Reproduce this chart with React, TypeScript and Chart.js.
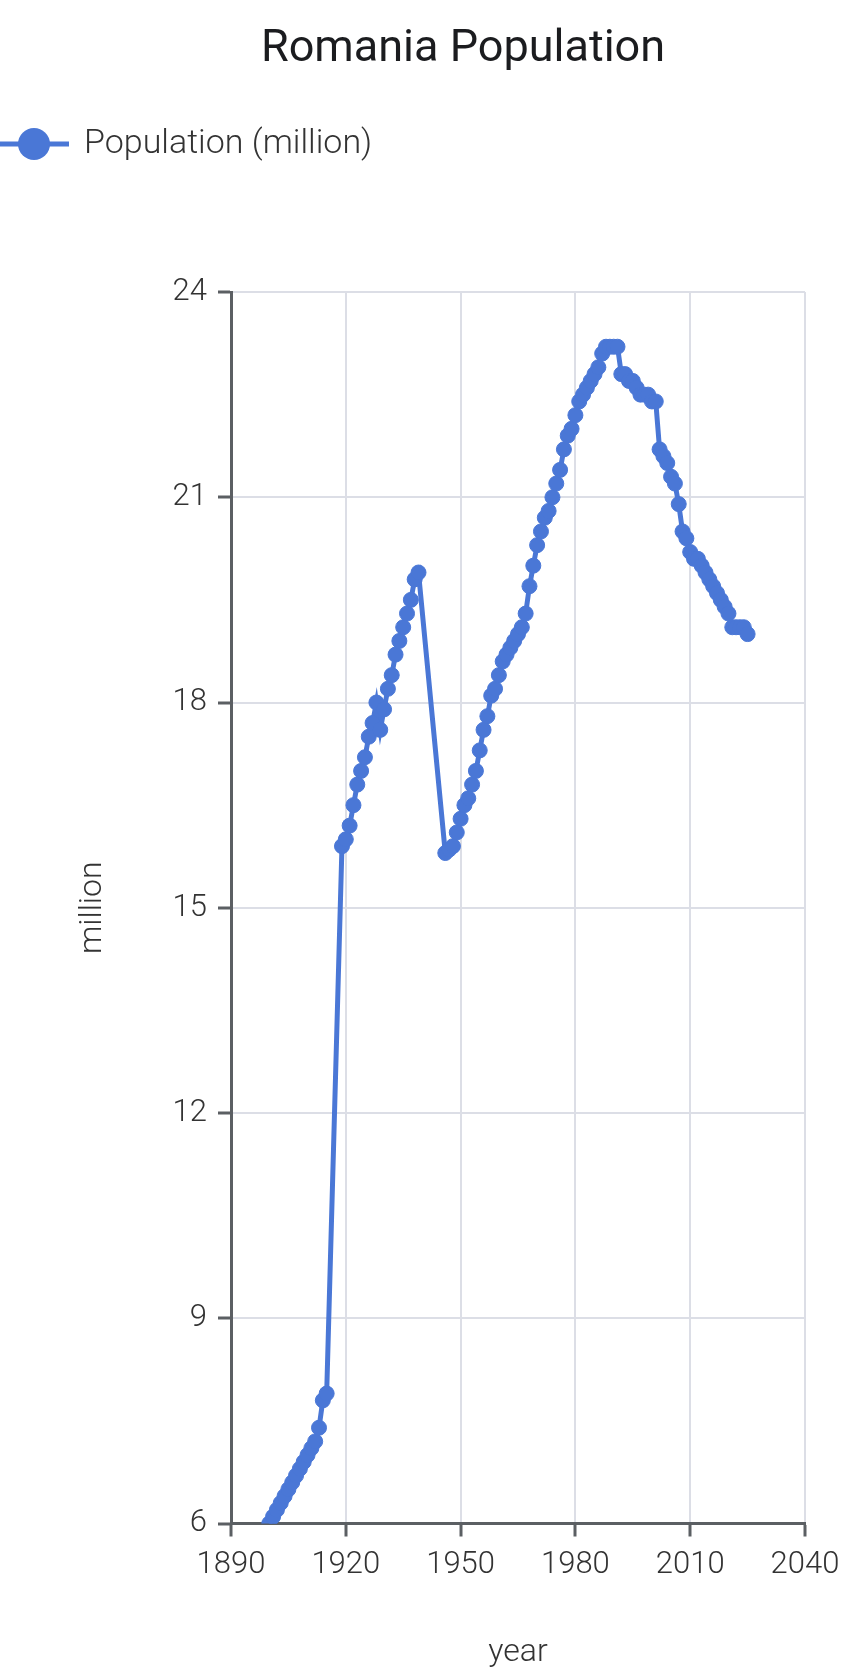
import React, { useEffect, useRef } from "react";
import { Chart, registerables } from "chart.js";

Chart.register(...registerables);

const TITLE = "Romania Population";
const SERIES_NAME = "Population (million)";
const X_TITLE = "year";
const Y_TITLE = "million";

const YEARS = [
  1900, 1901, 1902, 1903, 1904, 1905, 1906, 1907, 1908, 1909, 1910, 1911, 1912, 1913, 1914, 1915,
  1919, 1920, 1921, 1922, 1923, 1924, 1925, 1926, 1927, 1928, 1929, 1930, 1931, 1932, 1933, 1934,
  1935, 1936, 1937, 1938, 1939,
  1946, 1947, 1948, 1949, 1950, 1951, 1952, 1953, 1954, 1955, 1956, 1957, 1958, 1959, 1960, 1961,
  1962, 1963, 1964, 1965, 1966, 1967, 1968, 1969, 1970, 1971, 1972, 1973, 1974, 1975, 1976, 1977,
  1978, 1979, 1980, 1981, 1982, 1983, 1984, 1985, 1986, 1987, 1988, 1989, 1990, 1991, 1992, 1993,
  1994, 1995, 1996, 1997, 1998, 1999, 2000, 2001, 2002, 2003, 2004, 2005, 2006, 2007, 2008, 2009,
  2010, 2011, 2012, 2013, 2014, 2015, 2016, 2017, 2018, 2019, 2020, 2021, 2022, 2023, 2024, 2025,
];

const POPULATION = [
  6.0, 6.1, 6.2, 6.3, 6.4, 6.5, 6.6, 6.7, 6.8, 6.9, 7.0, 7.1, 7.2, 7.4, 7.8, 7.9,
  15.9, 16.0, 16.2, 16.5, 16.8, 17.0, 17.2, 17.5, 17.7, 18.0, 17.6, 17.9, 18.2, 18.4, 18.7, 18.9,
  19.1, 19.3, 19.5, 19.8, 19.9,
  15.8, 15.85, 15.9, 16.1, 16.3, 16.5, 16.6, 16.8, 17.0, 17.3, 17.6, 17.8, 18.1, 18.2, 18.4, 18.6,
  18.7, 18.8, 18.9, 19.0, 19.1, 19.3, 19.7, 20.0, 20.3, 20.5, 20.7, 20.8, 21.0, 21.2, 21.4, 21.7,
  21.9, 22.0, 22.2, 22.4, 22.5, 22.6, 22.7, 22.8, 22.9, 23.1, 23.2, 23.2, 23.2, 23.2, 22.8, 22.8,
  22.7, 22.7, 22.6, 22.5, 22.5, 22.5, 22.4, 22.4, 21.7, 21.6, 21.5, 21.3, 21.2, 20.9, 20.5, 20.4,
  20.2, 20.1, 20.1, 20.0, 19.9, 19.8, 19.7, 19.6, 19.5, 19.4, 19.3, 19.1, 19.1, 19.1, 19.1, 19.0,
];

const X_TICKS = [1890, 1920, 1950, 1980, 2010, 2040];
const Y_TICKS = [6, 9, 12, 15, 18, 21, 24];

const LINE_COLOR = "#4a77d6";
const GRID_COLOR = "#dcdee6";
const AXIS_COLOR = "#5b5f63";
const TEXT_COLOR = "#333333";
const FONT = "Roboto";

const headerPlugin = {
  id: "header",
  afterDraw(chart: any) {
    const ctx = chart.ctx;
    ctx.save();
    ctx.fillStyle = "#1b1c1f";
    ctx.font = `400 45px ${FONT}`;
    ctx.textAlign = "center";
    ctx.textBaseline = "middle";
    ctx.fillText(TITLE, 463, 50);

    const ly = 144;
    ctx.strokeStyle = LINE_COLOR;
    ctx.lineWidth = 5;
    ctx.beginPath();
    ctx.moveTo(0, ly);
    ctx.lineTo(69, ly);
    ctx.stroke();
    ctx.fillStyle = LINE_COLOR;
    ctx.beginPath();
    ctx.arc(34, ly, 16, 0, Math.PI * 2);
    ctx.fill();
    ctx.fillStyle = TEXT_COLOR;
    ctx.font = `300 34px ${FONT}`;
    ctx.textAlign = "left";
    ctx.fillText(SERIES_NAME, 84, ly);
    ctx.restore();
  },
};

export default function App() {
  const ref = useRef<HTMLCanvasElement | null>(null);

  useEffect(() => {
    document.body.style.margin = "0";
    const canvas = ref.current;
    if (!canvas) return;
    const data = YEARS.map((y, i) => ({ x: y, y: POPULATION[i] }));
    const chart = new Chart(canvas, {
      type: "line",
      data: {
        datasets: [
          {
            label: SERIES_NAME,
            data,
            borderColor: LINE_COLOR,
            backgroundColor: LINE_COLOR,
            borderWidth: 5,
            pointRadius: 7.5,
            pointBorderWidth: 1,
            pointBorderColor: LINE_COLOR,
            pointBackgroundColor: LINE_COLOR,
            tension: 0,
            fill: false,
          },
        ],
      },
      options: {
        responsive: false,
        animation: false,
        devicePixelRatio: 1,
        layout: { padding: { top: 292, right: 53, bottom: 0, left: 0 } },
        plugins: {
          legend: { display: false },
          title: { display: false },
          tooltip: { enabled: false },
        },
        scales: {
          x: {
            type: "linear",
            min: X_TICKS[0],
            max: X_TICKS[X_TICKS.length - 1],
            afterBuildTicks: (s: any) => {
              s.ticks = X_TICKS.map((v) => ({ value: v }));
            },
            afterFit: (s: any) => {
              s.height = 148.5;
            },
            grid: {
              color: GRID_COLOR,
              lineWidth: 2,
              tickLength: 13,
              tickColor: AXIS_COLOR,
              tickWidth: 3,
            },
            border: { color: AXIS_COLOR, width: 3 },
            ticks: {
              color: TEXT_COLOR,
              font: { family: FONT, size: 31, weight: "300" as any },
              padding: 10,
              maxRotation: 0,
              callback: (v: any) => String(v),
            },
            title: {
              display: true,
              text: X_TITLE,
              color: TEXT_COLOR,
              font: { family: FONT, size: 32, weight: "300" as any },
              padding: { top: 0, bottom: 0 },
            },
          },
          y: {
            type: "linear",
            min: Y_TICKS[0],
            max: Y_TICKS[Y_TICKS.length - 1],
            afterBuildTicks: (s: any) => {
              s.ticks = Y_TICKS.map((v) => ({ value: v }));
            },
            afterFit: (s: any) => {
              s.width = 231;
            },
            grid: {
              color: GRID_COLOR,
              lineWidth: 2,
              tickLength: 13,
              tickColor: AXIS_COLOR,
              tickWidth: 3,
            },
            border: { color: AXIS_COLOR, width: 3 },
            ticks: {
              color: TEXT_COLOR,
              font: { family: FONT, size: 31, weight: "300" as any },
              padding: 11,
              callback: (v: any) => String(v),
            },
            title: {
              display: true,
              text: Y_TITLE,
              color: TEXT_COLOR,
              font: { family: FONT, size: 32, weight: "300" as any },
              padding: { top: 74, bottom: 0 },
            },
          },
        },
      },
      plugins: [headerPlugin],
    });
    return () => chart.destroy();
  }, []);

  return (
    <div style={{ width: 858, height: 1672 }}>
      <canvas ref={ref} width={858} height={1672} style={{ display: "block" }} />
    </div>
  );
}
